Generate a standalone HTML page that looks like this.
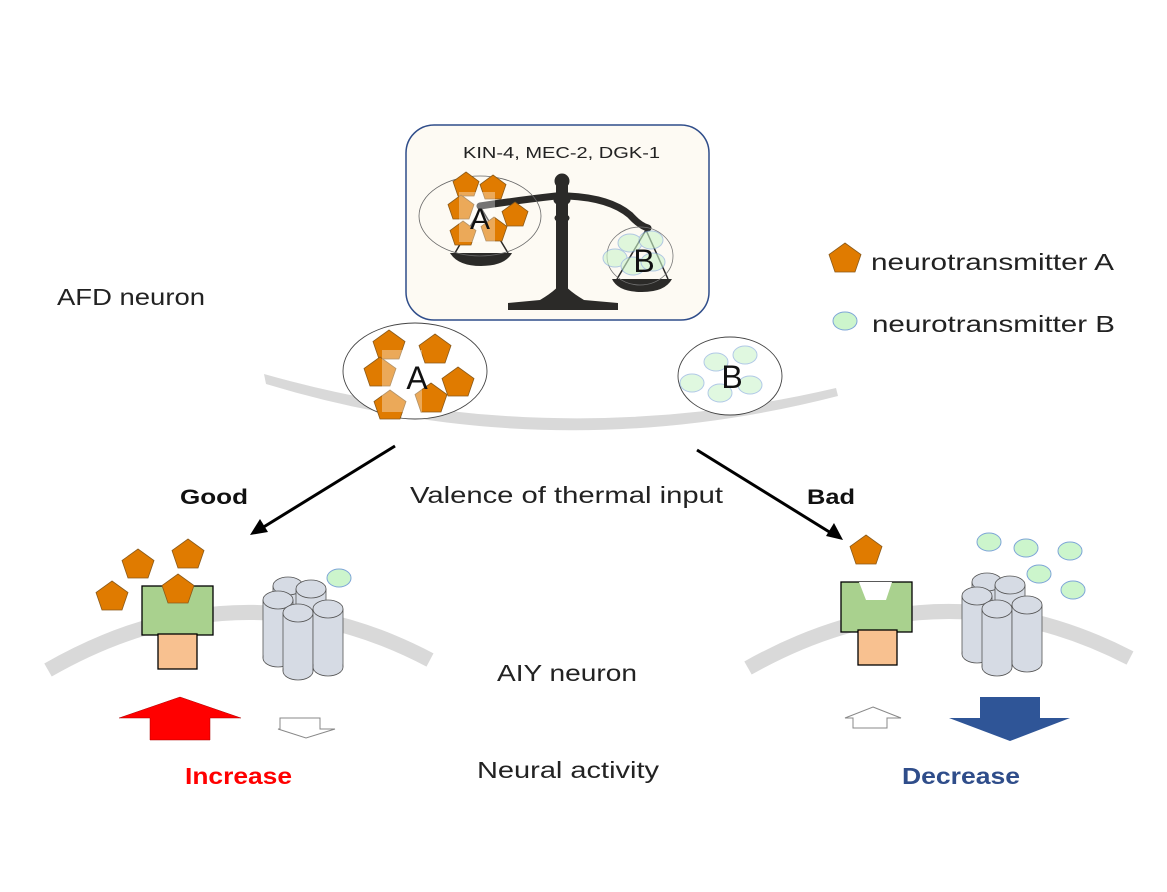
<!DOCTYPE html>
<html><head><meta charset="utf-8"><style>
html,body{margin:0;padding:0;background:#fff;}
svg{display:block;font-family:"Liberation Sans",sans-serif;}
</style></head><body>
<svg width="1167" height="892" viewBox="0 0 1167 892" xmlns="http://www.w3.org/2000/svg">
<defs>
<g id="pent"><polygon points="0,-16 16,-4.5 10,13 -10,13 -16,-4.5" fill="#e07b00" stroke="#8a5a1a" stroke-width="0.8"/></g>
<g id="spent"><polygon points="0,-13 13,-3.5 8,11 -8,11 -13,-3.5" fill="#e07b00" stroke="#8a5a1a" stroke-width="0.8"/></g>
<g id="gc"><ellipse rx="12" ry="9" fill="#ccf5cc" stroke="#7fa6d8" stroke-width="1"/></g>
<g id="cyl">
<rect x="-15" y="0" width="30" height="58" fill="#d6dbe4" stroke="#555" stroke-width="0.8"/>
<ellipse cx="0" cy="58" rx="15" ry="9" fill="#d6dbe4" stroke="#555" stroke-width="0.8"/>
<rect x="-14.5" y="0" width="29" height="58" fill="#d6dbe4"/>
<ellipse cx="0" cy="0" rx="15" ry="9" fill="#d6dbe4" stroke="#555" stroke-width="0.8"/>
</g>
<g id="cluster">
<use href="#cyl" x="25" y="10"/>
<use href="#cyl" x="48" y="13"/>
<use href="#cyl" x="15" y="24"/>
<use href="#cyl" x="35" y="37"/>
<use href="#cyl" x="65" y="33"/>
</g>
</defs>

<!-- top box -->
<rect x="406" y="125" width="303" height="195" rx="28" fill="#fdfaf3" stroke="#2f4d8a" stroke-width="1.5"/>
<text x="463" y="158" font-size="16" textLength="197" lengthAdjust="spacingAndGlyphs" fill="#222">KIN-4, MEC-2, DGK-1</text>
<!-- scale -->
<g fill="#2b2a28" stroke="#2b2a28">
<circle cx="562" cy="181" r="7"/>
<rect x="556" y="185" width="12" height="110" stroke="none"/>
<ellipse cx="562" cy="200" rx="8" ry="5"/>
<ellipse cx="562" cy="218" rx="7" ry="4"/>
<path d="M480,206 Q520,200 556,196 L568,196 Q610,198 630,215 Q640,226 648,228" fill="none" stroke-width="7" stroke-linecap="round"/>
<path d="M540,300 Q560,288 562,280 Q564,288 584,300 L618,303 L618,310 L508,310 L508,303 Z" stroke="none"/>
<path d="M450,253 L512,253 Q505,266 481,266 Q458,266 450,253 Z" stroke="none"/>
<path d="M612,279 L672,279 Q665,292 642,292 Q618,292 612,279 Z" stroke="none"/>
<line x1="481" y1="208" x2="455" y2="253" stroke-width="1.5"/>
<line x1="481" y1="208" x2="508" y2="253" stroke-width="1.5"/>
<line x1="646" y1="230" x2="617" y2="279" stroke-width="1.5"/>
<line x1="646" y1="230" x2="668" y2="279" stroke-width="1.5"/>
</g>
<ellipse cx="480" cy="216" rx="61" ry="40" fill="none" stroke="#666" stroke-width="0.8"/>
<use href="#spent" x="466" y="185"/><use href="#spent" x="493" y="188"/>
<use href="#spent" x="461" y="208"/><use href="#spent" x="515" y="215"/>
<use href="#spent" x="463" y="234"/><use href="#spent" x="494" y="230"/>
<rect x="459" y="192" width="36" height="50" fill="#fff" opacity="0.35"/>
<text x="480" y="229" font-size="30" text-anchor="middle" fill="#111">A</text>
<ellipse cx="640" cy="256" rx="33" ry="29" fill="none" stroke="#777" stroke-width="0.8"/>
<g opacity="0.6"><use href="#gc" x="630" y="243"/><use href="#gc" x="651" y="240"/><use href="#gc" x="615" y="258"/><use href="#gc" x="633" y="266"/><use href="#gc" x="653" y="262"/></g>
<text x="644" y="272" font-size="32" text-anchor="middle" fill="#111">B</text>

<text x="57" y="305" font-size="23" textLength="148" lengthAdjust="spacingAndGlyphs" fill="#222">AFD neuron</text>
<use href="#pent" x="845" y="259"/>
<text x="871" y="270" font-size="23" textLength="243" lengthAdjust="spacingAndGlyphs" fill="#222">neurotransmitter A</text>
<use href="#gc" x="845" y="321"/>
<text x="872" y="332" font-size="23" textLength="243" lengthAdjust="spacingAndGlyphs" fill="#222">neurotransmitter B</text>

<!-- AFD membrane -->
<path d="M264,374 Q550,455 836,388 L838,396 Q550,470 266,384 Z" fill="#d9d9d9"/>
<ellipse cx="415" cy="371" rx="72" ry="48" fill="#fff" stroke="#444" stroke-width="0.9"/>
<use href="#pent" x="389" y="346"/><use href="#pent" x="435" y="350"/>
<use href="#pent" x="380" y="373"/><use href="#pent" x="458" y="383"/>
<use href="#pent" x="390" y="406"/><use href="#pent" x="431" y="399"/>
<rect x="382" y="350" width="40" height="62" fill="#fff" opacity="0.35"/>
<text x="417" y="389" font-size="32" text-anchor="middle" fill="#111">A</text>
<ellipse cx="730" cy="376" rx="52" ry="39" fill="#fff" stroke="#444" stroke-width="0.9"/>
<g opacity="0.6"><use href="#gc" x="716" y="362"/><use href="#gc" x="745" y="355"/><use href="#gc" x="692" y="383"/><use href="#gc" x="720" y="393"/><use href="#gc" x="750" y="385"/></g>
<text x="732" y="388" font-size="32" text-anchor="middle" fill="#111">B</text>

<!-- arrows -->
<line x1="395" y1="446" x2="262" y2="528" stroke="#000" stroke-width="3"/>
<polygon points="250,535 260,519 268,532" fill="#000"/>
<line x1="697" y1="450" x2="831" y2="533" stroke="#000" stroke-width="3"/>
<polygon points="843,540 826,536 834,523" fill="#000"/>
<text x="180" y="504" font-size="21" font-weight="bold" textLength="68" lengthAdjust="spacingAndGlyphs" fill="#111">Good</text>
<text x="410" y="503" font-size="23" textLength="313" lengthAdjust="spacingAndGlyphs" fill="#222">Valence of thermal input</text>
<text x="807" y="504" font-size="21" font-weight="bold" textLength="48" lengthAdjust="spacingAndGlyphs" fill="#111">Bad</text>

<!-- AIY membranes -->
<path d="M48,670 Q240,560 430,660" fill="none" stroke="#d9d9d9" stroke-width="15"/>
<path d="M748,668 Q940,560 1130,658" fill="none" stroke="#d9d9d9" stroke-width="15"/>

<!-- left receptor -->
<use href="#pent" x="112" y="597"/><use href="#pent" x="138" y="565"/><use href="#pent" x="188" y="555"/>
<rect x="142" y="586" width="71" height="49" fill="#a9d18e" stroke="#000" stroke-width="1.3"/>
<rect x="158" y="634" width="39" height="35" fill="#f8c190" stroke="#000" stroke-width="1.3"/>
<use href="#pent" x="178" y="590"/>
<use href="#cluster" x="263" y="576"/>
<ellipse cx="339" cy="578" rx="12" ry="9" fill="#ccf5cc" stroke="#7fa6d8"/>

<!-- right receptor -->
<use href="#pent" x="866" y="551"/>
<rect x="841" y="582" width="71" height="50" fill="#a9d18e" stroke="#000" stroke-width="1.3"/>
<polygon points="859,582 892,582 886,600 866,600" fill="#fff"/>
<rect x="858" y="630" width="39" height="35" fill="#f8c190" stroke="#000" stroke-width="1.3"/>
<use href="#cluster" x="962" y="572"/>
<use href="#gc" x="989" y="542"/><use href="#gc" x="1026" y="548"/><use href="#gc" x="1070" y="551"/><use href="#gc" x="1039" y="574"/><use href="#gc" x="1073" y="590"/>

<text x="497" y="681" font-size="23" textLength="140" lengthAdjust="spacingAndGlyphs" fill="#222">AIY neuron</text>

<!-- activity arrows -->
<polygon points="180,697 241,718 210,718 210,740 150,740 150,718 119,718" fill="#ff0000" stroke="#a00" stroke-width="0.5"/>
<polygon points="280,718 320,718 320,729 335,729 306,738 278,729 280,729" fill="#fff" stroke="#888" stroke-width="1"/>
<polygon points="873,707 901,718 887,718 887,728 853,728 853,718 845,718" fill="#fff" stroke="#888" stroke-width="1"/>
<polygon points="980,697 1040,697 1040,718 1070,718 1010,741 949,718 980,718" fill="#2f5597"/>

<text x="185" y="784" font-size="23" font-weight="bold" textLength="107" lengthAdjust="spacingAndGlyphs" fill="#ff0000">Increase</text>
<text x="477" y="778" font-size="23" textLength="182" lengthAdjust="spacingAndGlyphs" fill="#222">Neural activity</text>
<text x="902" y="784" font-size="23" font-weight="bold" textLength="118" lengthAdjust="spacingAndGlyphs" fill="#2f4d8a">Decrease</text>
</svg>
</body></html>
